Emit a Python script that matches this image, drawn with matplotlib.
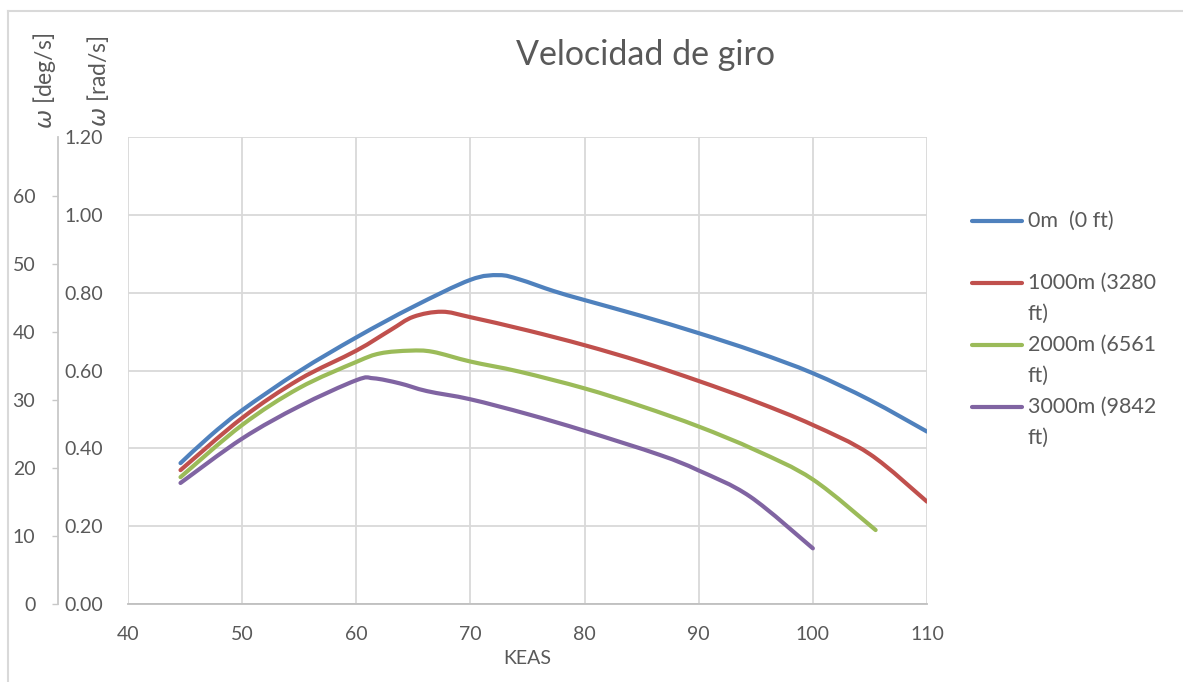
import numpy as np
import matplotlib
matplotlib.use("Agg")
import matplotlib.pyplot as plt
from matplotlib.path import Path
from matplotlib.patches import PathPatch
from matplotlib.lines import Line2D
from matplotlib.ticker import FormatStrFormatter

# Turn rate vs. equivalent airspeed for four altitudes
keas_0m = [44.6, 47.2, 50, 55, 60, 65, 70, 72.5, 74.3, 77.3, 80, 85, 90, 95, 100, 105, 110]
omega_0m = [0.362, 0.432, 0.498, 0.598, 0.685, 0.764, 0.833, 0.845, 0.834, 0.804, 0.781,
            0.740, 0.696, 0.648, 0.593, 0.524, 0.443]

keas_1000m = [44.6, 50, 55, 60, 63, 65, 67.5, 70, 75, 80, 85, 90, 95, 100, 105, 110]
omega_1000m = [0.344, 0.478, 0.577, 0.651, 0.704, 0.738, 0.751, 0.737, 0.703, 0.665,
               0.622, 0.573, 0.520, 0.460, 0.385, 0.263]

keas_2000m = [44.6, 50, 55, 60, 62.1, 64.7, 66.7, 70, 74.3, 80, 85, 90, 95, 100, 105.5]
omega_2000m = [0.326, 0.460, 0.555, 0.622, 0.644, 0.651, 0.648, 0.623, 0.597, 0.554, 0.508,
               0.456, 0.395, 0.320, 0.190]

keas_3000m = [44.6, 50, 55, 60, 61.5, 63.8, 66.2, 70, 75, 80, 86.6, 90, 94.5, 100]
omega_3000m = [0.311, 0.425, 0.508, 0.575, 0.580, 0.567, 0.547, 0.526, 0.488, 0.445, 0.383,
               0.343, 0.276, 0.143]

labels = [["0m  (0 ft)"], ["1000m (3280", "ft)"], ["2000m (6561", "ft)"], ["3000m (9842", "ft)"]]
colors = ["#4F81BD", "#C0504D", "#9BBB59", "#8064A2"]
series = [(keas_0m, omega_0m), (keas_1000m, omega_1000m),
          (keas_2000m, omega_2000m), (keas_3000m, omega_3000m)]

x_ticks = list(range(40, 111, 10))
rad_ticks = [0.0, 0.2, 0.4, 0.6, 0.8, 1.0, 1.2]
deg_ticks = list(range(0, 61, 10))

FONT = "Lato"
TXT = "#595959"
GRID = "#D9D9D9"
plt.rcParams["font.family"] = [FONT, "DejaVu Sans"]


def smooth_path(xs, ys):
    """Cubic Bezier path through the points (smoothed line)."""
    p = np.column_stack([xs, ys]).astype(float)
    n = len(p)
    verts = [p[0]]
    codes = [Path.MOVETO]
    for i in range(n - 1):
        p0 = p[i - 1] if i > 0 else p[i]
        p1 = p[i]
        p2 = p[i + 1]
        p3 = p[i + 2] if i + 2 < n else p[i + 1]
        c1 = p1 + (p2 - p0) / 6.0
        c2 = p2 - (p3 - p1) / 6.0
        verts += [c1, c2, p2]
        codes += [Path.CURVE4] * 3
    return Path(verts, codes)


W, H = 1183, 682
fig = plt.figure(figsize=(W / 100, H / 100), dpi=100)
px = lambda x: x / W
py = lambda y: 1 - y / H

ax = fig.add_axes([px(128), py(604), (927 - 128) / W, (604 - 137) / H])
ax.set_xlim(40, 110)
ax.set_ylim(0, 1.2)
ax.set_xticks(x_ticks)
ax.set_yticks(rad_ticks)
ax.yaxis.set_major_formatter(FormatStrFormatter("%.2f"))
ax.grid(color=GRID, lw=1.3)
ax.set_axisbelow(True)
for s in ["top", "right", "left"]:
    ax.spines[s].set_visible(False)
ax.spines["bottom"].set_color("#BFBFBF")
ax.spines["bottom"].set_linewidth(1.3)
ax.tick_params(length=0, labelcolor=TXT, labelsize=14)
ax.tick_params(axis="y", pad=18)
ax.tick_params(axis="x", pad=16)
ax.set_xlabel("KEAS", color=TXT, fontsize=14, labelpad=5)

for (xs, ys), c in zip(series, colors):
    ax.add_patch(PathPatch(smooth_path(xs, ys), fill=False, edgecolor=c, lw=3.0,
                           capstyle="round", joinstyle="round"))

# Secondary scale in degrees per second
sec = ax.secondary_yaxis("left", functions=(np.degrees, np.radians))
sec.spines["left"].set_position(("outward", 50.4))
sec.spines["left"].set_color("#C8C8C8")
sec.spines["left"].set_linewidth(1.3)
sec.set_yticks(deg_ticks)
sec.tick_params(length=4.3, width=1.0, color="#C8C8C8", labelcolor=TXT,
                labelsize=14, pad=12)

# Axis titles
fig.text(px(44), py(81), r"$\omega$ [deg/s]", rotation=90, ha="center", va="center",
         color=TXT, fontsize=16.5)
fig.text(px(98), py(81), r"$\omega$ [rad/s]", rotation=90, ha="center", va="center",
         color=TXT, fontsize=16.5)

# Chart title
fig.text(px(646), py(55), "Velocidad de giro", ha="center", va="center",
         color=TXT, fontsize=24.5)

# Legend
legend_y = [221, 283, 345, 407]
for lines, c, y in zip(labels, colors, legend_y):
    fig.add_artist(Line2D([px(972), px(1022)], [py(y), py(y)], color=c, lw=3.0,
                          solid_capstyle="round"))
    for k, line in enumerate(lines):
        fig.text(px(1028), py(y + 6 + 31 * k), line, ha="left", va="baseline",
                 color=TXT, fontsize=15.5)

# Chart border (top and left edges)
fig.add_artist(Line2D([px(7.5), 1.01], [py(10.5), py(10.5)], color=GRID, lw=1.5))
fig.add_artist(Line2D([px(7.5), px(7.5)], [py(10.5), -0.01], color=GRID, lw=1.5))

fig.savefig("out.png", dpi=100)
